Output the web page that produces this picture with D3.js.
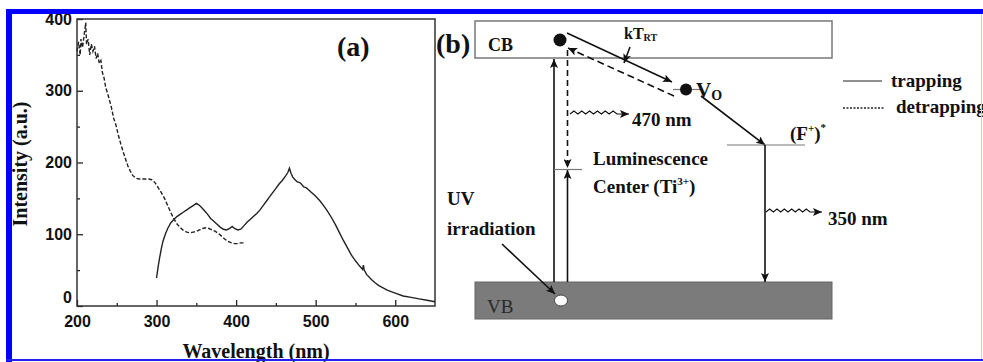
<html lang="en">
<head>
<meta charset="utf-8">
<title>Excitation / emission spectra and band scheme</title>
<script src="https://cdn.jsdelivr.net/npm/d3@7"></script>
<style>
  body { margin: 0; background: #fff; }
  svg { display: block; }
</style>
</head>
<body></body>
<script type="text/javascript">

//****************************************************************************************************************************//
// Data

var excitationWavelength = [200,202,204,205,207,209,211,212,214,216,218,220,222,224,226,228,230,232,234,236,238,240,243,246,249,252,255,258,261,264,267,270,274,278,282,286,290,294,298,302,306,310,314,318,322,326,330,334,338,342,346,350,354,358,362,366,370,374,378,382,386,390,394,398,402,406,410];
var excitationIntensity  = [355,368,350,372,360,378,395,365,372,350,365,355,362,345,352,338,342,325,318,305,298,290,278,262,252,238,226,215,205,195,188,182,178,177,177,177,177,176,172,165,158,150,140,130,121,114,109,105,103,102,103,104,106,108,109,108,106,104,101,97,93,90,88,87,87,88,88];

var emissionWavelength = [300,302,304,306,308,311,314,318,322,326,330,334,338,342,346,350,353,356,360,364,368,372,376,380,384,388,392,395,398,402,406,410,414,418,422,426,430,434,438,442,446,450,454,458,462,465,467,469,471,474,477,480,482,485,488,491,494,497,500,505,510,515,520,525,530,535,540,545,550,555,559,560,561,564,570,575,580,590,600,610,620,630,640,650];
var emissionIntensity  = [39,55,68,80,90,100,108,116,121,125,128,131,134,137,140,143,141,138,133,128,122,118,114,110,107,106,108,111,108,106,107,112,117,121,125,129,134,140,146,152,158,164,170,175,181,186,192,185,180,176,173,172,170,166,165,162,159,156,153,147,140,132,123,113,102,91,81,71,63,56,51,57,50,44,37,32,28,22,18,14,12,10,8,6];

var xMajorTicks = [200,300,400,500,600];
var xMinorTicks = [250,350,450,550];
var yMajorTicks = [0,100,200,300,400];
var yMinorTicks = [50,150,250,350];

//****************************************************************************************************************************//
// Canvas

var width = 983,
    height = 362;

var canvas = d3.select("body")
            .append("svg")
            .attr("width", width)
            .attr("height", height);

canvas.append("rect")
        .attr("width", width)
        .attr("height", height)
        .attr("fill", "white");

var defs = canvas.append("defs");
defs.append("marker")
        .attr("id", "head")
        .attr("markerUnits", "userSpaceOnUse")
        .attr("markerWidth", 10)
        .attr("markerHeight", 8)
        .attr("refX", 9)
        .attr("refY", 4)
        .attr("orient", "auto")
      .append("path")
        .attr("d", "M0,0 L9,4 L0,8 L2,4 Z")
        .attr("fill", "#111");

var serif = "'Liberation Serif', 'Times New Roman', serif";
var sans = "'Liberation Sans', Arial, sans-serif";

//****************************************************************************************************************************//
// Panel (a): spectra

var x = d3.scaleLinear().domain([200, 650]).range([77, 435]);
var y = d3.scaleLinear().domain([0, 400]).range([306, 19]);

var plot = canvas.append("g");

function styleAxis(g) {
    g.select(".domain").remove();
    g.selectAll(".tick line").attr("stroke", "#222").attr("stroke-width", 1.3);
    g.selectAll(".tick text")
        .attr("fill", "#111")
        .style("font-family", sans)
        .style("font-weight", "bold")
        .style("font-size", "16px");
}

plot.append("g")
    .attr("transform", "translate(0," + y(0) + ")")
    .call(d3.axisBottom(x).tickValues(xMajorTicks).tickSize(-6).tickPadding(10).tickFormat(d3.format("d")))
    .call(styleAxis);

plot.append("g")
    .attr("transform", "translate(0," + y(0) + ")")
    .call(d3.axisBottom(x).tickValues(xMinorTicks).tickSize(-3).tickFormat(""))
    .call(styleAxis);

var yAxis = plot.append("g")
    .attr("transform", "translate(" + x(200) + ",0)")
    .call(d3.axisLeft(y).tickValues(yMajorTicks).tickSize(-6).tickPadding(5).tickFormat(d3.format("d")))
    .call(styleAxis);
yAxis.selectAll(".tick text").filter(function(d){ return d === 0; }).attr("dy", "-0.2em");

plot.append("g")
    .attr("transform", "translate(" + x(200) + ",0)")
    .call(d3.axisLeft(y).tickValues(yMinorTicks).tickSize(-3).tickFormat(""))
    .call(styleAxis);

plot.append("rect")
    .attr("x", x(200))
    .attr("y", y(400))
    .attr("width", x(650) - x(200))
    .attr("height", y(0) - y(400))
    .attr("fill", "none")
    .attr("stroke", "#333")
    .attr("stroke-width", 1.5);

var line = d3.line()
    .x(function(d){ return x(d[0]); })
    .y(function(d){ return y(d[1]); });

plot.append("path")
    .datum(d3.zip(excitationWavelength, excitationIntensity))
    .attr("d", line)
    .attr("fill", "none")
    .attr("stroke", "#222")
    .attr("stroke-width", 1.4)
    .attr("stroke-dasharray", "4,2");

plot.append("path")
    .datum(d3.zip(emissionWavelength, emissionIntensity))
    .attr("d", line)
    .attr("fill", "none")
    .attr("stroke", "#222")
    .attr("stroke-width", 1.4);

plot.append("text")
    .attr("transform", "translate(27,164) rotate(-90)")
    .attr("text-anchor", "middle")
    .style("font-family", serif)
    .style("font-weight", "bold")
    .style("font-size", "20px")
    .attr("fill", "#111")
    .text("Intensity (a.u.)");

plot.append("text")
    .attr("x", 256)
    .attr("y", 358)
    .attr("text-anchor", "middle")
    .style("font-family", serif)
    .style("font-weight", "bold")
    .style("font-size", "20px")
    .attr("fill", "#111")
    .text("Wavelength (nm)");

plot.append("text")
    .attr("x", 337)
    .attr("y", 56)
    .style("font-family", serif)
    .style("font-weight", "bold")
    .style("font-size", "28px")
    .attr("fill", "#111")
    .text("(a)");

//****************************************************************************************************************************//
// Panel (b): band scheme

var scheme = canvas.append("g")
    .style("font-family", serif)
    .style("font-weight", "bold")
    .style("font-size", "19px")
    .attr("fill", "#111");

scheme.append("text").attr("x", 436).attr("y", 53).style("font-size", "28px").text("(b)");

// bands
scheme.append("rect")
    .attr("x", 475).attr("y", 21).attr("width", 357).attr("height", 37)
    .attr("fill", "white").attr("stroke", "#777").attr("stroke-width", 1.5);
scheme.append("text").attr("x", 488).attr("y", 51).style("font-size", "18px").text("CB");

scheme.append("rect")
    .attr("x", 475).attr("y", 282).attr("width", 357).attr("height", 37)
    .attr("fill", "#7b7b7b").attr("stroke", "#666").attr("stroke-width", 1);
scheme.append("text").attr("x", 487).attr("y", 313)
    .style("font-weight", "normal").attr("fill", "#2a2a2a").text("VB");

function arrow(x1, y1, x2, y2, dash) {
    scheme.append("line")
        .attr("x1", x1).attr("y1", y1).attr("x2", x2).attr("y2", y2)
        .attr("stroke", "#111").attr("stroke-width", 1.6)
        .attr("stroke-dasharray", dash || null)
        .attr("marker-end", "url(#head)");
}

function wave(x1, x2, yc, n) {
    var step = (x2 - x1) / (2 * n), d = "M" + x1 + "," + yc;
    for (var i = 1; i <= 2 * n; i++) {
        d += " L" + (x1 + i * step) + "," + (yc + (i % 2 ? -3 : 0));
    }
    d += " L" + (x2 + 12) + "," + yc;
    scheme.append("path").attr("d", d).attr("fill", "none")
        .attr("stroke", "#111").attr("stroke-width", 1.1)
        .attr("marker-end", "url(#head)");
}

// excitation and recombination verticals
arrow(554, 282, 554, 59);
arrow(567.5, 282, 567.5, 170);
arrow(567.5, 50, 567.5, 168, "6,4");
scheme.append("line").attr("x1", 554).attr("y1", 169.5).attr("x2", 582).attr("y2", 169.5)
    .attr("stroke", "#777").attr("stroke-width", 1.2);

// electron, trap, hole
scheme.append("circle").attr("cx", 560).attr("cy", 40).attr("r", 6.5).attr("fill", "#111");
scheme.append("line").attr("x1", 673).attr("y1", 89.5).attr("x2", 703).attr("y2", 89.5)
    .attr("stroke", "#777").attr("stroke-width", 1.2);
scheme.append("circle").attr("cx", 686).attr("cy", 89.5).attr("r", 6).attr("fill", "#111");
scheme.append("ellipse").attr("cx", 561).attr("cy", 300.5).attr("rx", 6.5).attr("ry", 5.5)
    .attr("fill", "white").attr("stroke", "#444").attr("stroke-width", 1);

// trapping / detrapping
arrow(567, 33, 672, 82);
arrow(674, 96, 568, 48, "7,4");
arrow(630, 47, 624, 63);
var kt = scheme.append("text").attr("x", 624).attr("y", 39).style("font-size", "16px");
kt.append("tspan").text("kT");
kt.append("tspan").attr("dy", 2).style("font-size", "10px").text("RT");

var vo = scheme.append("text").attr("x", 696).attr("y", 97).style("font-size", "21px");
vo.append("tspan").text("V");
vo.append("tspan").attr("dy", 3).style("font-size", "14px").text("O");

// V_O -> (F+)* -> VB
arrow(701, 96, 765, 145);
scheme.append("line").attr("x1", 727).attr("y1", 145).attr("x2", 805).attr("y2", 145)
    .attr("stroke", "#777").attr("stroke-width", 1.2);
arrow(765, 145, 765, 282);
var fp = scheme.append("text").attr("x", 790).attr("y", 140);
fp.append("tspan").text("(F");
fp.append("tspan").attr("dy", -8).style("font-size", "11px").text("+");
fp.append("tspan").attr("dy", 8).text(")");
fp.append("tspan").attr("dy", -9).style("font-size", "11px").text("*");

// emissions
wave(570, 617, 114, 6);
scheme.append("text").attr("x", 632).attr("y", 126).text("470 nm");
wave(766, 810, 212, 6);
scheme.append("text").attr("x", 828).attr("y", 225).text("350 nm");

// labels
scheme.append("text").attr("x", 593).attr("y", 165).text("Luminescence");
var lc = scheme.append("text").attr("x", 593).attr("y", 193);
lc.append("tspan").text("Center (Ti");
lc.append("tspan").attr("dy", -8).style("font-size", "11px").text("3+");
lc.append("tspan").attr("dy", 8).text(")");

scheme.append("text").attr("x", 447).attr("y", 205).text("UV");
scheme.append("text").attr("x", 447).attr("y", 235).text("irradiation");
arrow(502, 244, 555, 294);

// legend
scheme.append("line").attr("x1", 843).attr("y1", 81).attr("x2", 882).attr("y2", 81)
    .attr("stroke", "#222").attr("stroke-width", 1.2);
scheme.append("text").attr("x", 891).attr("y", 87).text("trapping");
scheme.append("line").attr("x1", 843).attr("y1", 108).attr("x2", 884).attr("y2", 108)
    .attr("stroke", "#222").attr("stroke-width", 1.6).attr("stroke-dasharray", "2,1.5");
scheme.append("text").attr("x", 896).attr("y", 113).text("detrapping");

//****************************************************************************************************************************//
// Blue frame

canvas.append("rect").attr("x", 6).attr("y", 9).attr("width", width - 6).attr("height", 5).attr("fill", "#0000ff");
canvas.append("rect").attr("x", 6).attr("y", 9).attr("width", 6).attr("height", height - 9).attr("fill", "#0000ff");
canvas.append("rect").attr("x", 6).attr("y", 359).attr("width", width - 6).attr("height", 2).attr("fill", "#2020f0");
canvas.append("rect").attr("x", 981).attr("y", 14).attr("width", 1).attr("height", 345).attr("fill", "#c8c8f0");

</script>
</html>
